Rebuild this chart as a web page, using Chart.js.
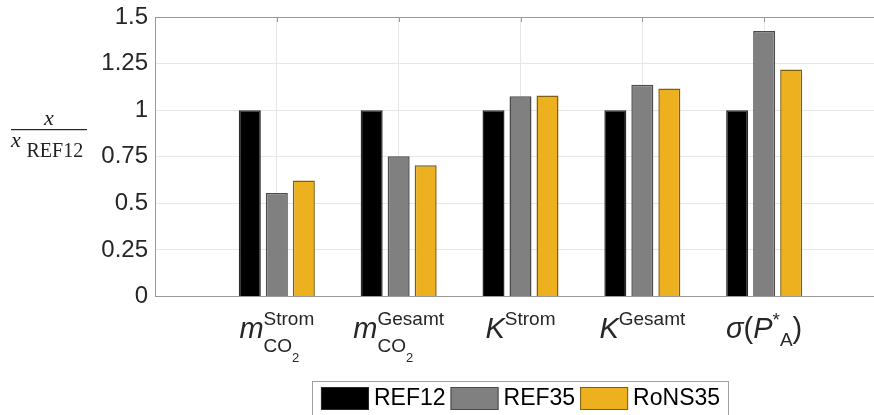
<!DOCTYPE html>
<html>
<head>
<meta charset="utf-8">
<script src="https://cdn.jsdelivr.net/npm/chart.js@4.4.0/dist/chart.umd.min.js"></script>
<style>
  html, body { margin: 0; padding: 0; background: #fff; }
  #wrap { width: 874px; height: 415px; overflow: hidden; position: relative; }
  canvas { display: block; }
</style>
</head>
<body>
<div id="wrap"><canvas id="chart" width="890" height="415"></canvas></div>
<script>
// data
const categories = ['m_CO2^Strom', 'm_CO2^Gesamt', 'K^Strom', 'K^Gesamt', 'σ(P*_A)'];
const seriesNames = ['REF12', 'REF35', 'RoNS35'];
const ref12 = [1, 1, 1, 1, 1];
const ref35 = [0.556, 0.753, 1.075, 1.136, 1.425];
const rons35 = [0.622, 0.705, 1.079, 1.116, 1.218];
const yTicks = [0, 0.25, 0.5, 0.75, 1, 1.25, 1.5];

const SANS = '"Liberation Sans", Arial, sans-serif';
const SERIF = '"Liberation Serif", "Times New Roman", serif';
const MAIN = 'italic 29px ' + SANS;
const UP = '29px ' + SANS;
const SUP = '19px ' + SANS;
const SS = '13px ' + SANS;

// how each category name is typeset under the axis
const mathLabels = {
  'm_CO2^Strom': [{t: 'm', f: MAIN}, {stack: [[{t: 'Strom', f: SUP, dy: -13}], [{t: 'CO', f: SUP, dy: 14}, {t: '2', f: SS, dy: 24}]]}],
  'm_CO2^Gesamt': [{t: 'm', f: MAIN}, {stack: [[{t: 'Gesamt', f: SUP, dy: -13}], [{t: 'CO', f: SUP, dy: 14}, {t: '2', f: SS, dy: 24}]]}],
  'K^Strom': [{t: 'K', f: MAIN}, {t: 'Strom', f: SUP, dy: -13}],
  'K^Gesamt': [{t: 'K', f: MAIN}, {t: 'Gesamt', f: SUP, dy: -13}],
  'σ(P*_A)': [{t: 'σ', f: MAIN}, {t: '(', f: UP}, {t: 'P', f: MAIN}, {t: '*', f: SUP, dy: -12}, {t: 'A', f: SUP, dy: 8}, {t: ')', f: UP}]
};

const pad = arr => [null, ...arr, null];

function partWidth(ctx, parts) {
  let w = 0;
  parts.forEach(p => {
    if (p.stack) {
      w += Math.max(...p.stack.map(s => partWidth(ctx, s)));
    } else {
      ctx.font = p.f;
      w += ctx.measureText(p.t).width;
    }
  });
  return w;
}

function drawParts(ctx, parts, x, y) {
  parts.forEach(p => {
    if (p.stack) {
      p.stack.forEach(s => drawParts(ctx, s, x, y));
      x += Math.max(...p.stack.map(s => partWidth(ctx, s)));
    } else {
      ctx.font = p.f;
      ctx.fillText(p.t, x, y + (p.dy || 0));
      x += ctx.measureText(p.t).width;
    }
  });
}

const decor = {
  id: 'decor',
  afterDraw(chart) {
    const ctx = chart.ctx;
    const area = chart.chartArea;
    const xs = chart.scales.x;
    ctx.save();

    // top box line and top ticks
    ctx.strokeStyle = '#999';
    ctx.lineWidth = 1;
    ctx.beginPath();
    ctx.moveTo(area.left, Math.round(area.top) + 0.5);
    ctx.lineTo(area.right, Math.round(area.top) + 0.5);
    categories.forEach((c, i) => {
      const px = Math.round(xs.getPixelForValue(i + 1)) + 0.5;
      ctx.moveTo(px, area.top);
      ctx.lineTo(px, area.top + 5);
    });
    ctx.stroke();

    // category labels
    ctx.fillStyle = '#262626';
    ctx.textBaseline = 'alphabetic';
    ctx.textAlign = 'left';
    categories.forEach((c, i) => {
      const parts = mathLabels[c];
      const cx = xs.getPixelForValue(i + 1);
      const w = partWidth(ctx, parts);
      drawParts(ctx, parts, cx - w / 2, 338);
    });

    // y title: x / x_REF12
    ctx.fillStyle = '#222';
    ctx.font = 'italic 22px ' + SERIF;
    ctx.textAlign = 'center';
    ctx.fillText('x', 49, 125);
    ctx.fillRect(11, 129, 76, 1.2);
    ctx.textAlign = 'left';
    ctx.fillText('x', 11, 147);
    ctx.font = '20px ' + SERIF;
    ctx.fillText('REF12', 26.5, 156.5);

    // legend
    const boxW = 48, boxH = 23, gap = 5, between = 5;
    ctx.font = '23px ' + SANS;
    const ds = chart.data.datasets;
    let total = 0;
    ds.forEach(d => { total += boxW + gap + ctx.measureText(d.label).width; });
    total += between * (ds.length - 1);
    const cxm = (area.left + area.right) / 2;
    let lx = cxm - total / 2;
    ctx.strokeStyle = '#a0a0a0';
    ctx.strokeRect(Math.round(lx - 9) + 0.5, 381.5, Math.round(total + 17), 50);
    ds.forEach(d => {
      ctx.fillStyle = d.backgroundColor;
      ctx.fillRect(lx, 387, boxW, boxH);
      ctx.strokeStyle = d.borderColor;
      ctx.lineWidth = 1;
      ctx.strokeRect(lx + 0.5, 387.5, boxW - 1, boxH - 1);
      ctx.fillStyle = '#000';
      ctx.textBaseline = 'middle';
      ctx.fillText(d.label, lx + boxW + gap, 399);
      lx += boxW + gap + ctx.measureText(d.label).width + between;
    });
    ctx.restore();
  }
};

new Chart(document.getElementById('chart'), {
  type: 'bar',
  data: {
    labels: pad(categories),
    datasets: [
      {label: seriesNames[0], data: pad(ref12), backgroundColor: '#000000', borderColor: '#2a2a2a'},
      {label: seriesNames[1], data: pad(ref35), backgroundColor: '#808080', borderColor: '#4a4a4a'},
      {label: seriesNames[2], data: pad(rons35), backgroundColor: '#EDB120', borderColor: '#7d5f14'}
    ]
  },
  options: {
    responsive: false,
    animation: false,
    categoryPercentage: 0.665,
    barPercentage: 0.815,
    datasets: {bar: {borderWidth: 1.5}},
    layout: {padding: {top: 17, right: 4, left: 0, bottom: 0}},
    plugins: {legend: {display: false}, tooltip: {enabled: false}},
    scales: {
      x: {
        offset: false,
        grid: {offset: false, color: '#e6e6e6', drawTicks: false},
        border: {color: '#999'},
        ticks: {display: false},
        afterFit: s => { s.height = 118.5; s.paddingLeft = 0; s.paddingRight = 0; }
      },
      y: {
        min: 0,
        max: 1.5,
        afterBuildTicks: s => { s.ticks = yTicks.map(v => ({value: v})); },
        ticks: {
          font: {size: 24, family: SANS},
          color: '#262626',
          padding: 7,
          callback: v => String(v)
        },
        grid: {color: '#e6e6e6', drawTicks: false},
        border: {color: '#999'},
        afterFit: s => { s.width = 155; s.paddingTop = 0; s.paddingBottom = 0; }
      }
    }
  },
  plugins: [decor]
});
</script>
</body>
</html>
